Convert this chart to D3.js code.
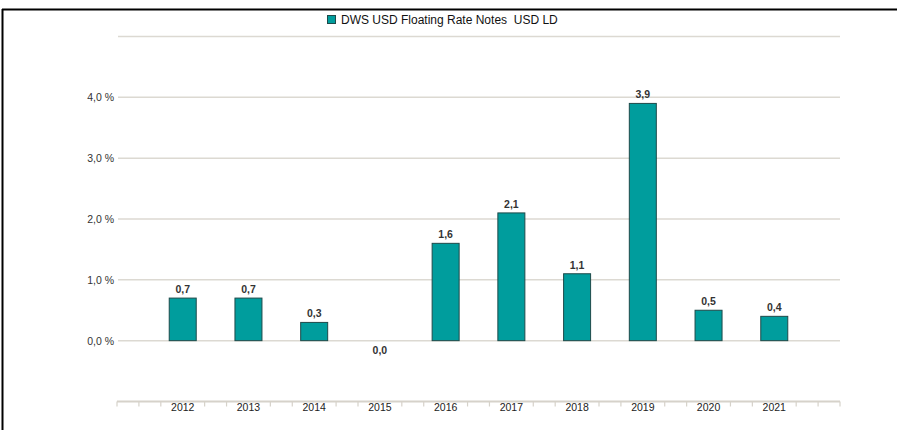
<!DOCTYPE html>
<html><head><meta charset="utf-8">
<script src="https://cdn.jsdelivr.net/npm/d3@7"></script>
<style>body{margin:0;background:#fff}svg{display:block;font-family:"Liberation Sans",Arial,sans-serif}</style>
</head><body>
<svg id="c" width="897" height="430"></svg>
<script>
const categories = ["2012","2013","2014","2015","2016","2017","2018","2019","2020","2021"];
const values = [0.7,0.7,0.3,0.0,1.6,2.1,1.1,3.9,0.5,0.4];
const yTicks = [0,1,2,3,4,5];
const seriesName = "DWS USD Floating Rate Notes  USD LD";

const svg = d3.select("#c");
const L = 117, R = 840, T = 36.5, B = 401.5;
const x = d3.scalePoint().domain(["_a", ...categories, "_b"]).range([L, R]);
const y = d3.scaleLinear().domain([-1, 5]).range([B, T]);

// frame
svg.append("line").attr("x1",2).attr("x2",897).attr("y1",9.5).attr("y2",9.5).attr("stroke","#000").attr("stroke-width",2);
svg.append("line").attr("x1",2.5).attr("x2",2.5).attr("y1",9).attr("y2",430).attr("stroke","#000").attr("stroke-width",2);

// gridlines
svg.append("g").selectAll("line").data(yTicks).join("line")
  .attr("x1",L+1).attr("x2",R).attr("y1",d=>y(d)).attr("y2",d=>y(d))
  .attr("stroke","#dcd9d2").attr("stroke-width",1.5);
svg.append("g").selectAll("text").data(yTicks.filter(d=>d<5)).join("text")
  .attr("x",114).attr("y",d=>y(d)+4).attr("text-anchor","end")
  .attr("font-size",10.5).attr("fill","#333")
  .text(d=>d3.format(".1f")(d).replace(".",",")+" %");

// bottom axis with minor ticks
const minor = d3.range(0, 34).map(i => L + i*(R-L)/33);
svg.append("line").attr("x1",L).attr("x2",R).attr("y1",B).attr("y2",B).attr("stroke","#d6d2ca").attr("stroke-width",2);
svg.append("g").selectAll("line").data(minor.filter((p,i)=> i%3!==0 || i===0 || i===33)).join("line")
  .attr("x1",d=>d).attr("x2",d=>d).attr("y1",B).attr("y2",B+5).attr("stroke","#d6d2ca").attr("stroke-width",1.2);
svg.append("g").selectAll("text").data(categories).join("text")
  .attr("x",d=>x(d)).attr("y",411).attr("text-anchor","middle")
  .attr("font-size",10.5).attr("fill","#222").text(d=>d);

// bars
const bw = 27;
const data = categories.map((c,i)=>({c, v: values[i]}));
svg.append("g").selectAll("rect").data(data.filter(d=>d.v>0)).join("rect")
  .attr("x",d=>x(d.c)-bw/2).attr("width",bw)
  .attr("y",d=>y(d.v)).attr("height",d=>y(0)-y(d.v))
  .attr("fill","#009d9d").attr("stroke","#1e4a4a").attr("stroke-width",1);
svg.append("g").selectAll("text").data(data).join("text")
  .attr("x",d=>x(d.c)).attr("y",d=>d.v>0 ? y(d.v)-5 : y(0)+13)
  .attr("text-anchor","middle").attr("font-size",10.5).attr("font-weight","bold").attr("fill","#333")
  .text(d=>d3.format(".1f")(d.v).replace(".",","));

// legend
svg.append("rect").attr("x",327.5).attr("y",15.5).attr("width",8).attr("height",8)
  .attr("fill","#009d9d").attr("stroke","#1e4a4a").attr("stroke-width",1);
svg.append("text").attr("x",341).attr("y",24).attr("font-size",12).attr("fill","#111")
  .style("white-space","pre").text(seriesName);
</script>
</body></html>
